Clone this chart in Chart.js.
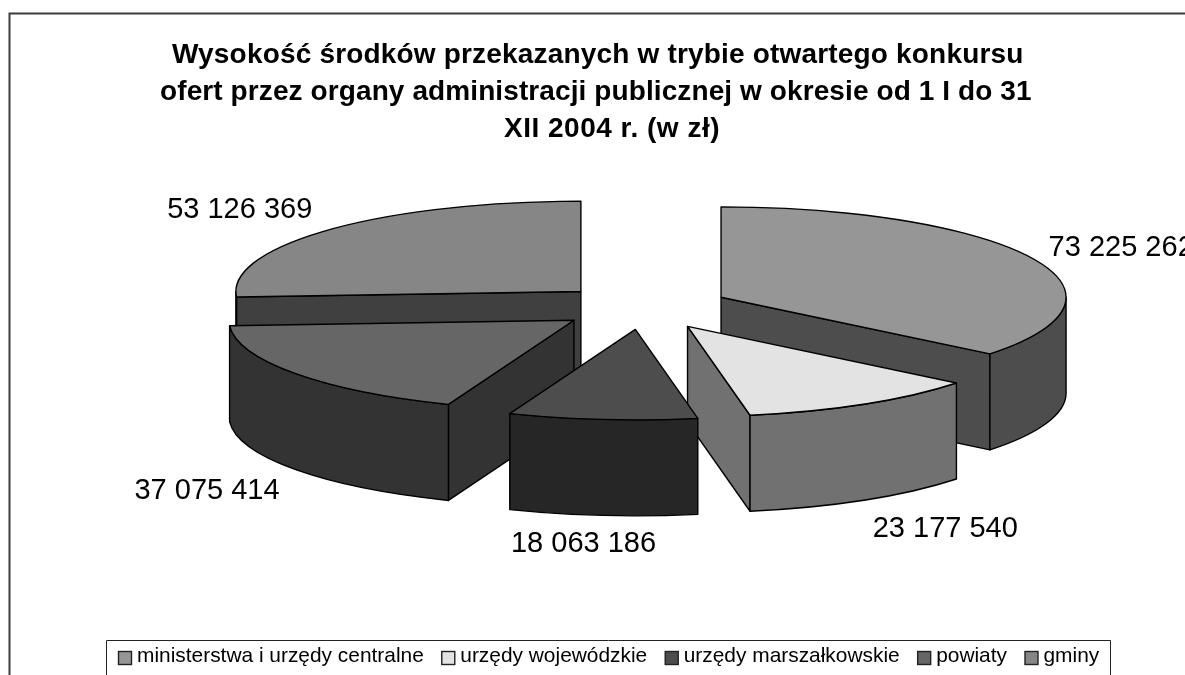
<!DOCTYPE html>
<html>
<head>
<meta charset="utf-8">
<script src="https://cdn.jsdelivr.net/npm/chart.js@4"></script>
<style>
  html, body { margin: 0; padding: 0; background: #fff; overflow: hidden; }
  canvas { display: block; }
</style>
</head>
<body>
<canvas id="canvas" width="1185" height="675"></canvas>
<script>
const categories = ['ministerstwa i urzędy centralne', 'urzędy wojewódzkie', 'urzędy marszałkowskie', 'powiaty', 'gminy'];
const values = [73225262, 23177540, 18063186, 37075414, 53126369];
const topColors = ['#969696', '#e3e3e3', '#4d4d4d', '#666666', '#868686'];
const sideColors = ['#4d4d4d', '#717171', '#262626', '#333333', '#404040'];
const titleLines = [
  'Wysokość środków przekazanych w trybie otwartego konkursu',
  'ofert przez organy administracji publicznej w okresie od 1 I do 31',
  'XII 2004 r. (w zł)'
];

// title lines are not quite centred in the picture: [left, baseline, letter spacing]
const titlePlace = [[172, 63, 0.18], [160, 100, 0.1], [504, 137, 0.5]];
// where the value labels sit, relative to the outer edge of their slice
const labelNudge = [[89, -10], [81, 29], [-19, 29], [-88, 22], [-90, -20]];

function formatValue(v) {
  return String(v).replace(/\B(?=(\d{3})+$)/g, ' ');
}

// the tilted pie: chart.js computes the angles, this draws them as a 3d disc
const tiltedPie = {
  id: 'tiltedPie',
  beforeDraw(chart, args, opts) {
    const ctx = chart.ctx;
    ctx.save();
    ctx.strokeStyle = '#3c3c3c';
    ctx.lineWidth = 2;
    ctx.beginPath();
    ctx.moveTo(9.5, 675);
    ctx.lineTo(9.5, 13.5);
    ctx.lineTo(1185, 13.5);
    ctx.stroke();

    ctx.fillStyle = '#000';
    ctx.textAlign = 'left';
    ctx.textBaseline = 'alphabetic';
    ctx.font = opts.titleFont;
    titleLines.forEach(function(line, i) {
      ctx.letterSpacing = titlePlace[i][2] + 'px';
      ctx.fillText(line, titlePlace[i][0], titlePlace[i][1]);
    });
    ctx.letterSpacing = '0px';

    // legend, open at the bottom like the picture
    ctx.strokeStyle = '#222';
    ctx.lineWidth = 1;
    ctx.beginPath();
    ctx.moveTo(opts.legendLeft, 675);
    ctx.lineTo(opts.legendLeft, opts.legendTop);
    ctx.lineTo(opts.legendRight, opts.legendTop);
    ctx.lineTo(opts.legendRight, 675);
    ctx.stroke();

    ctx.font = opts.legendFont;
    let x = opts.legendStart;
    categories.forEach(function(name, i) {
      ctx.fillStyle = topColors[i];
      ctx.fillRect(x + 0.5, opts.legendTop + 11, 13, 13);
      ctx.strokeStyle = '#222';
      ctx.lineWidth = 1.4;
      ctx.strokeRect(x + 0.5, opts.legendTop + 11, 13, 13);
      ctx.fillStyle = '#000';
      ctx.fillText(name, x + 19, opts.legendTop + 21);
      x += 19 + ctx.measureText(name).width + opts.legendGap;
    });
    ctx.restore();
  },
  beforeDatasetsDraw(chart, args, opts) {
    const ctx = chart.ctx;
    const arcs = chart.getDatasetMeta(0).data;
    const slices = arcs.map(function(arc, i) {
      const mid = (arc.startAngle + arc.endAngle) / 2;
      return {
        i: i,
        a0: arc.startAngle,
        a1: arc.endAngle,
        r: arc.outerRadius,
        mid: mid,
        x: opts.centerX + Math.cos(mid) * opts.explode,
        y: opts.centerY + Math.sin(mid) * opts.explode * opts.tilt
      };
    });
    // back to front
    slices.sort(function(a, b) { return a.y - b.y; });

    ctx.save();
    ctx.lineWidth = 1.4;
    ctx.lineJoin = 'round';
    ctx.strokeStyle = '#000';
    slices.forEach(function(s) {
      const ry = s.r * opts.tilt;
      const d = opts.depth;
      ctx.fillStyle = sideColors[s.i];
      // radial walls, only when they face us
      [[s.a0, Math.cos(s.a0) < -0.001], [s.a1, Math.cos(s.a1) > 0.001]].forEach(function(w) {
        if (!w[1]) return;
        const px = s.x + Math.cos(w[0]) * s.r;
        const py = s.y + Math.sin(w[0]) * ry;
        ctx.beginPath();
        ctx.moveTo(s.x, s.y);
        ctx.lineTo(px, py);
        ctx.lineTo(px, py + d);
        ctx.lineTo(s.x, s.y + d);
        ctx.closePath();
        ctx.fill();
        ctx.stroke();
      });
      // curved wall, only the part facing us
      const lo = Math.max(s.a0, 0);
      const hi = Math.min(s.a1, Math.PI);
      if (hi > lo) {
        ctx.beginPath();
        ctx.ellipse(s.x, s.y, s.r, ry, 0, lo, hi);
        ctx.ellipse(s.x, s.y + d, s.r, ry, 0, hi, lo, true);
        ctx.closePath();
        ctx.fill();
        ctx.stroke();
      }
      ctx.fillStyle = topColors[s.i];
      ctx.beginPath();
      ctx.moveTo(s.x, s.y);
      ctx.ellipse(s.x, s.y, s.r, ry, 0, s.a0, s.a1);
      ctx.closePath();
      ctx.fill();
      ctx.stroke();
    });

    // value labels
    ctx.fillStyle = '#000';
    ctx.font = opts.labelFont;
    ctx.textAlign = 'center';
    ctx.textBaseline = 'middle';
    slices.forEach(function(s) {
      const ex = s.x + Math.cos(s.mid) * s.r;
      const ey = s.y + Math.sin(s.mid) * s.r * opts.tilt + opts.depth;
      const baseY = Math.sin(s.mid) > 0 ? ey : ey - opts.depth;
      ctx.fillText(formatValue(values[s.i]), ex + labelNudge[s.i][0], baseY + labelNudge[s.i][1]);
    });
    ctx.restore();
    return false;
  }
};

new Chart(document.getElementById('canvas').getContext('2d'), {
  type: 'pie',
  plugins: [tiltedPie],
  data: {
    labels: categories,
    datasets: [{
      data: values,
      backgroundColor: topColors,
      borderColor: '#000',
      borderWidth: 1
    }]
  },
  options: {
    responsive: false,
    animation: false,
    radius: 345,
    plugins: {
      tooltip: { enabled: false },
      title: { display: false },
      legend: { display: false },
      tiltedPie: {
        centerX: 643.5,
        centerY: 307,
        tilt: 0.262,
        explode: 86,
        depth: 96,
        titleFont: 'bold 28px "Liberation Sans", Arial, sans-serif',
        labelFont: '29px "Liberation Sans", Arial, sans-serif',
        legendFont: '20.9px "Liberation Sans", Arial, sans-serif',
        legendLeft: 106.5,
        legendRight: 1110.5,
        legendTop: 640.5,
        legendStart: 118,
        legendGap: 17.5
      }
    }
  }
});
</script>
</body>
</html>
